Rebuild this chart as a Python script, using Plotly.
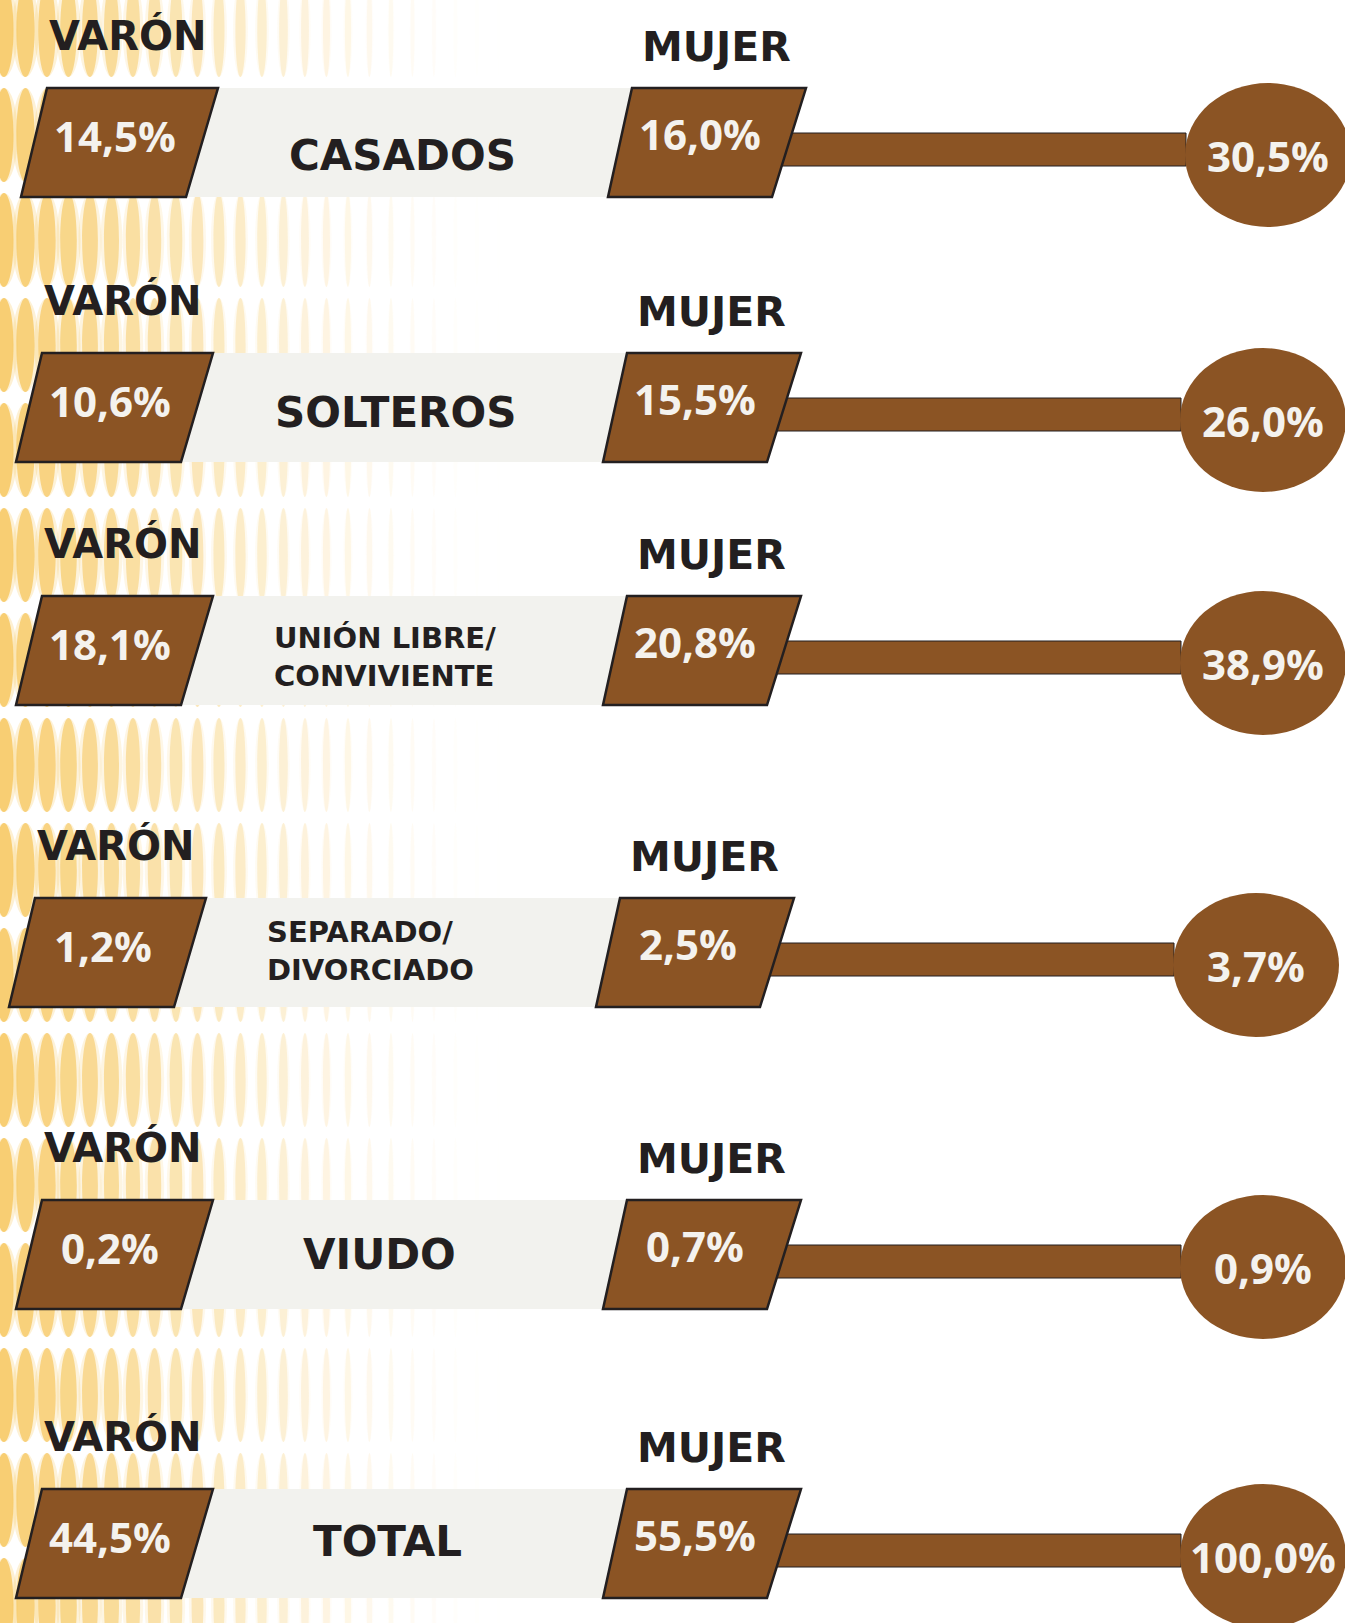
import plotly.graph_objects as go

# ---- data ----
categories = ["CASADOS", "SOLTEROS", "UNIÓN LIBRE/<br>CONVIVIENTE",
              "SEPARADO/<br>DIVORCIADO", "VIUDO", "TOTAL"]
varon = [14.5, 10.6, 18.1, 1.2, 0.2, 44.5]
mujer = [16.0, 15.5, 20.8, 2.5, 0.7, 55.5]
total = [30.5, 26.0, 38.9, 3.7, 0.9, 100.0]
label_varon = "VARÓN"
label_mujer = "MUJER"

# ---- layout positions (pixels) ----
W, H = 1345, 1623
row_top = [88, 353, 596, 898, 1200, 1489]
row_dx = [0, -5, -5, -12, -5, -5]
cat_x = [402, 400, 277, 277, 384, 392]
cat_dy = [67, 59, 61, 53, 54, 52]

BROWN = "#8B5424"
DARK = "#231F20"
LIGHT = "#F4F2EE"
BAND = "#F2F2EE"
GOLD = "#F6C65C"


def fmt(v):
    return f"{v:.1f}".replace(".", ",") + "%"


def ellipse_path(cx, cy, rx, ry):
    k = 0.5523
    return (f"M{cx+rx},{cy} "
            f"C{cx+rx},{cy+k*ry} {cx+k*rx},{cy+ry} {cx},{cy+ry} "
            f"C{cx-k*rx},{cy+ry} {cx-rx},{cy+k*ry} {cx-rx},{cy} "
            f"C{cx-rx},{cy-k*ry} {cx-k*rx},{cy-ry} {cx},{cy-ry} "
            f"C{cx+k*rx},{cy-ry} {cx+rx},{cy-k*ry} {cx+rx},{cy} Z")


shapes = []
# decorative background pattern
ncol = 24
for i in range(ncol):
    cx = 4 + 21.5 * i
    rx = max(1.8, 9.5 - 0.4 * i)
    op = 0.9 * (1 - i / ncol) ** 1.8
    for scale, fac in ((1.45, 0.3), (1.0, 0.9)):
        p = " ".join(ellipse_path(cx, 30 + 105 * j, rx * scale, 47)
                     for j in range(17))
        shapes.append(dict(type="path", path=p, xref="x", yref="y",
                           fillcolor=GOLD, opacity=op * fac, line=dict(width=0),
                           layer="below"))

annotations = []
for r in range(len(categories)):
    T = row_top[r]
    d = row_dx[r]
    # band
    shapes.append(dict(type="rect", xref="x", yref="y", x0=150 + d, x1=640 + d,
                       y0=T, y1=T + 109, fillcolor=BAND, line=dict(width=0)))
    # connector bar
    shapes.append(dict(type="rect", xref="x", yref="y", x0=770 + d, x1=1186 + d,
                       y0=T + 45, y1=T + 78, fillcolor=BROWN,
                       line=dict(color=DARK, width=1)))
    # left parallelogram
    shapes.append(dict(type="path", xref="x", yref="y",
                       path=f"M{47+d},{T} L{218+d},{T} L{186+d},{T+109} L{21+d},{T+109} Z",
                       fillcolor=BROWN, line=dict(color=DARK, width=2.5)))
    # right parallelogram
    shapes.append(dict(type="path", xref="x", yref="y",
                       path=f"M{632+d},{T} L{806+d},{T} L{772+d},{T+109} L{608+d},{T+109} Z",
                       fillcolor=BROWN, line=dict(color=DARK, width=2.5)))
    # circle
    shapes.append(dict(type="circle", xref="x", yref="y", x0=1185 + d, x1=1351 + d,
                       y0=T - 5, y1=T + 139, fillcolor=BROWN, line=dict(width=0)))

    annotations.append(dict(x=47 + d, y=T - 53, text=f"<b>{label_varon}</b>",
                            xanchor="left", yanchor="middle", showarrow=False,
                            font=dict(family="DejaVu Sans", size=40, color=DARK)))
    annotations.append(dict(x=640 + d, y=T - 41, text=f"<b>{label_mujer}</b>",
                            xanchor="left", yanchor="middle", showarrow=False,
                            font=dict(family="DejaVu Sans", size=41, color=DARK)))
    two_line = "<br>" in categories[r]
    annotations.append(dict(x=cat_x[r] + d, y=T + cat_dy[r],
                            text=f"<b>{categories[r]}</b>",
                            xanchor="left" if two_line else "center",
                            yanchor="middle", align="left", showarrow=False,
                            font=dict(family="DejaVu Sans",
                                      size=29 if two_line else 42, color=DARK)))
    val_font = dict(family="Open Sans", size=42, color=LIGHT)
    annotations.append(dict(x=115 + d, y=T + 47, text=f"<b>{fmt(varon[r])}</b>",
                            xanchor="center", yanchor="middle", showarrow=False,
                            font=val_font))
    annotations.append(dict(x=700 + d, y=T + 45, text=f"<b>{fmt(mujer[r])}</b>",
                            xanchor="center", yanchor="middle", showarrow=False,
                            font=val_font))
    annotations.append(dict(x=1268 + d, y=T + 67, text=f"<b>{fmt(total[r])}</b>",
                            xanchor="center", yanchor="middle", showarrow=False,
                            font=val_font))

fig = go.Figure()
fig.add_trace(go.Scatter(x=[0, W], y=[0, H], mode="markers",
                         marker=dict(opacity=0), hoverinfo="skip",
                         showlegend=False))
fig.update_layout(
    width=W, height=H,
    margin=dict(l=0, r=0, t=0, b=0),
    paper_bgcolor="white", plot_bgcolor="white",
    xaxis=dict(range=[0, W], visible=False, fixedrange=True),
    yaxis=dict(range=[H, 0], visible=False, fixedrange=True),
    shapes=shapes, annotations=annotations,
    showlegend=False,
)
fig.write_html("out.html", config={"displayModeBar": False},
               post_script="document.body.style.margin='0';document.body.style.overflow='hidden';")
